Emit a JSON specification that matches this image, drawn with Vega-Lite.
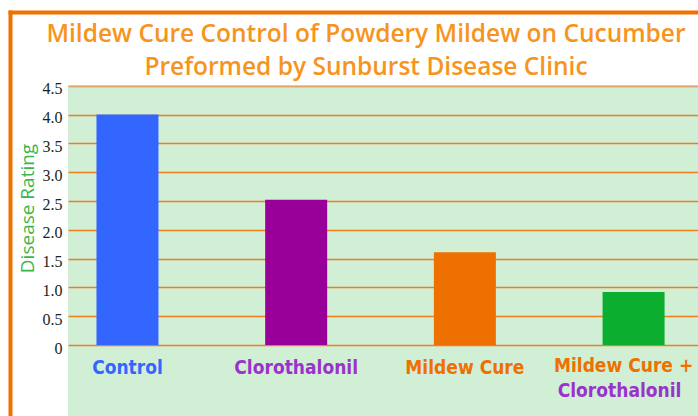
{
  "$schema": "https://vega.github.io/schema/vega-lite/v6.json",
  "width": 630,
  "height": 404,
  "autosize": {"type": "none"},
  "padding": {"left": 68, "top": 12, "right": 0, "bottom": 0},
  "background": "white",
  "config": {"view": {"stroke": null, "fill": "#d1efd5"}},
  "title": {
    "text": ["Mildew Cure Control of Powdery Mildew on Cucumber", "Preformed by Sunburst Disease Clinic"],
    "anchor": "middle",
    "frame": "group",
    "orient": "top",
    "offset": -71,
    "dx": -17,
    "font": "Open Sans",
    "fontSize": 24.5,
    "fontWeight": 600,
    "lineHeight": 33,
    "color": "#f7941d"
  },
  "data": {
    "values": [
      {"cat": "Control", "rating": 4.0, "line1": "Control", "line2": null},
      {"cat": "Clorothalonil", "rating": 2.52, "line1": "Clorothalonil", "line2": null},
      {"cat": "Mildew Cure", "rating": 1.61, "line1": "Mildew Cure", "line2": null},
      {"cat": "Mildew Cure + Clorothalonil", "rating": 0.92, "line1": "Mildew Cure +", "line2": "Clorothalonil"}
    ]
  },
  "layer": [
    {
      "mark": {"type": "rect", "color": "white"},
      "encoding": {
        "y": {
          "datum": 5.7813,
          "type": "quantitative",
          "scale": {"domain": [-1.2326, 5.7813], "nice": false, "zero": false},
          "axis": {
            "orient": "left",
            "offset": 58,
            "values": [5.7813],
            "labels": false,
            "grid": false,
            "title": null,
            "domain": true,
            "domainColor": "#f07000",
            "domainWidth": 4,
            "domainCap": "square",
            "ticks": true,
            "tickSize": -690,
            "tickColor": "#f07000",
            "tickWidth": 4,
            "tickCap": "square",
            "zindex": 1
          }
        },
        "y2": {"datum": 4.518}
      }
    },
    {
      "mark": {"type": "bar"},
      "encoding": {
        "x": {
          "field": "cat",
          "type": "nominal",
          "sort": null,
          "axis": null,
          "scale": {"paddingInner": 0.6325, "paddingOuter": 0.1835, "align": 0.46}
        },
        "y": {
          "field": "rating",
          "type": "quantitative",
          "scale": {"domain": [-1.2326, 5.7813], "nice": false, "zero": false},
          "axis": {
            "orient": "left",
            "values": [0, 0.5, 1, 1.5, 2, 2.5, 3, 3.5, 4, 4.5],
            "labelExpr": "datum.value == 0 ? '0' : format(datum.value, '.1f')",
            "labelFont": "Liberation Serif",
            "labelFontSize": 16,
            "labelColor": "#222222",
            "labelPadding": 6,
            "labelOffset": 3,
            "ticks": false,
            "tickSize": 0,
            "domain": false,
            "grid": true,
            "gridColor": {"condition": {"test": "datum.value == 4.5", "value": "#e4a86c"}, "value": "#ee7d1c"},
            "gridWidth": {"condition": {"test": "datum.value == 4.5", "value": 2}, "value": 1.5},
            "title": "Disease Rating",
            "titleFont": "Open Sans",
            "titleFontSize": 19,
            "titleFontWeight": "normal",
            "titleColor": "#3db54a",
            "titleAngle": -90,
            "titleAlign": "center",
            "titleBaseline": "middle",
            "titleX": -41,
            "titleY": 196,
            "zindex": 0
          }
        },
        "y2": {"datum": 0},
        "color": {
          "field": "cat",
          "type": "nominal",
          "legend": null,
          "scale": {
            "domain": ["Control", "Clorothalonil", "Mildew Cure", "Mildew Cure + Clorothalonil"],
            "range": ["#3366ff", "#990099", "#ee7000", "#0bae2e"]
          }
        }
      }
    },
    {
      "transform": [{"filter": "datum.line2 == null"}],
      "mark": {"type": "text", "font": "DejaVu Sans Condensed, Roboto, sans-serif", "fontSize": 19, "fontWeight": "bold", "align": "center", "baseline": "alphabetic", "dy": 29},
      "encoding": {
        "x": {"field": "cat", "type": "nominal", "sort": null},
        "y": {"datum": 0, "type": "quantitative", "axis": null},
        "text": {"field": "line1"},
        "color": {
          "field": "line1",
          "type": "nominal",
          "legend": null,
          "scale": {
            "domain": ["Control", "Clorothalonil", "Mildew Cure", "Mildew Cure +"],
            "range": ["#3366ff", "#9933cc", "#ee7000", "#ee7000"]
          }
        }
      }
    },
    {
      "transform": [{"filter": "datum.line2 != null"}],
      "mark": {"type": "text", "font": "DejaVu Sans Condensed, Roboto, sans-serif", "fontSize": 19, "fontWeight": "bold", "align": "center", "baseline": "alphabetic", "dy": 27, "dx": -10},
      "encoding": {
        "x": {"field": "cat", "type": "nominal", "sort": null},
        "y": {"datum": 0, "type": "quantitative", "axis": null},
        "text": {"field": "line1"},
        "color": {
          "field": "line1",
          "type": "nominal",
          "legend": null,
          "scale": {
            "domain": ["Control", "Clorothalonil", "Mildew Cure", "Mildew Cure +"],
            "range": ["#3366ff", "#9933cc", "#ee7000", "#ee7000"]
          }
        }
      }
    },
    {
      "transform": [{"filter": "datum.line2 != null"}],
      "mark": {"type": "text", "font": "DejaVu Sans Condensed, Roboto, sans-serif", "fontSize": 19, "fontWeight": "bold", "align": "center", "baseline": "alphabetic", "dy": 52, "dx": -14},
      "encoding": {
        "x": {"field": "cat", "type": "nominal", "sort": null},
        "y": {"datum": 0, "type": "quantitative", "axis": null},
        "text": {"field": "line2"},
        "color": {
          "field": "line2",
          "type": "nominal",
          "legend": null,
          "scale": {
            "domain": ["Control", "Clorothalonil", "Mildew Cure", "Mildew Cure +"],
            "range": ["#3366ff", "#9933cc", "#ee7000", "#ee7000"]
          }
        }
      }
    }
  ],
  "resolve": {"axis": {"y": "independent"}, "scale": {"color": "independent"}}
}
